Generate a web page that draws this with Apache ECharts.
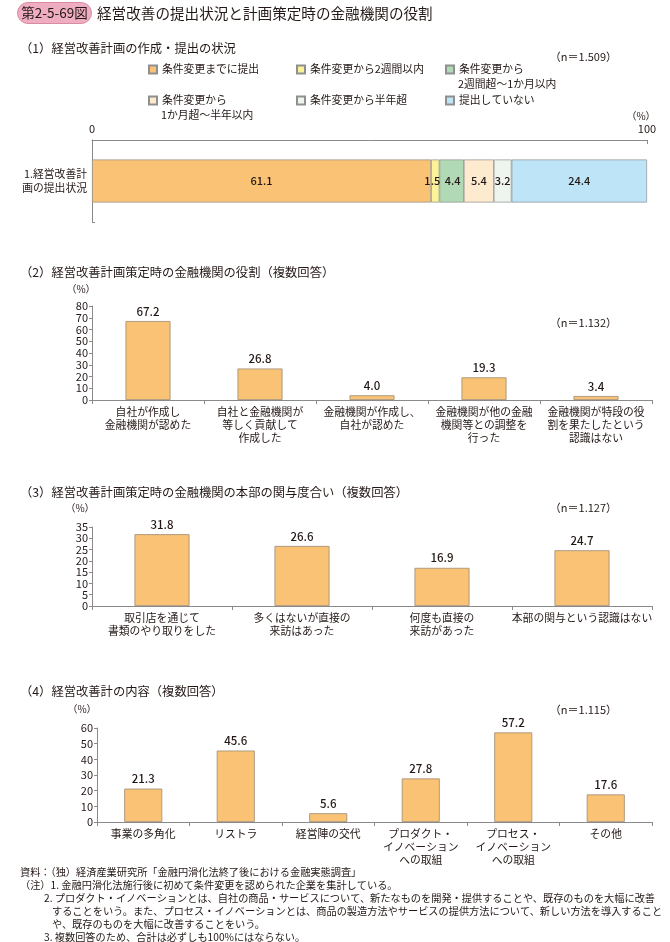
<!DOCTYPE html>
<html><head><meta charset="utf-8">
<script src="https://cdn.jsdelivr.net/npm/echarts@6/dist/echarts.min.js"></script>
<style>html,body{margin:0;padding:0;background:#fff}#c{width:670px;height:942px}</style>
</head><body><div id="c"></div>
<script>
// ---------- data ----------
const s1Names = ['条件変更までに提出','条件変更から2週間以内','条件変更から\n2週間超～1か月以内','条件変更から\n1か月超～半年以内','条件変更から半年超','提出していない'];
const s1Values = [61.1, 1.5, 4.4, 5.4, 3.2, 24.4];
const s1Category = ['1.経営改善計\n画の提出状況'];
const s1Ticks = [0, 100];

const s2Categories = ['自社が作成し\n金融機関が認めた','自社と金融機関が\n等しく貢献して\n作成した','金融機関が作成し、\n自社が認めた','金融機関が他の金融\n機関等との調整を\n行った','金融機関が特段の役\n割を果たしたという\n認識はない'];
const s2Values = [67.2, 26.8, 4.0, 19.3, 3.4];

const s3Categories = ['取引店を通じて\n書類のやり取りをした','多くはないが直接の\n来訪はあった','何度も直接の\n来訪があった','本部の関与という認識はない'];
const s3Values = [31.8, 26.6, 16.9, 24.7];

const s4Categories = ['事業の多角化','リストラ','経営陣の交代','プロダクト・\nイノベーション\nへの取組','プロセス・\nイノベーション\nへの取組','その他'];
const s4Values = [21.3, 45.6, 5.6, 27.8, 57.2, 17.6];

const titles = ['（1）経営改善計画の作成・提出の状況','（2）経営改善計画策定時の金融機関の役割（複数回答）','（3）経営改善計画策定時の金融機関の本部の関与度合い（複数回答）','（4）経営改善計の内容（複数回答）'];
const nLabels = ['（n＝1.509）','（n＝1.132）','（n＝1.127）','（n＝1.115）'];
const footnotes = [
 '資料：（独）経済産業研究所「金融円滑化法終了後における金融実態調査」',
 '（注）1. 金融円滑化法施行後に初めて条件変更を認められた企業を集計している。',
 '2. プロダクト・イノベーションとは、自社の商品・サービスについて、新たなものを開発・提供することや、既存のものを大幅に改善',
 'することをいう。また、プロセス・イノベーションとは、商品の製造方法やサービスの提供方法について、新しい方法を導入すること',
 'や、既存のものを大幅に改善することをいう。',
 '3. 複数回答のため、合計は必ずしも100%にはならない。'
];

// ---------- styles ----------
const JP = "'Noto Sans CJK JP','Noto Sans',sans-serif";
const NUM = "'Liberation Sans Narrow','Noto Sans CJK JP',sans-serif";
const TXT = '#231815';
const AX = '#8a8a8a';
const s1Colors = ['#F9C274','#FCF29A','#B2D9B5','#FDEACF','#EEF5EE','#BEE4F7'];
const s1LabelOffsets = [[0,0],[-3,0],[1,0],[0,0],[0,0],[0,0]];
const barColor = '#F9C274';
const barBorder = '#9c8a74';

const chart = echarts.init(document.getElementById('c'), null, {renderer:'canvas'});

const grids = [
  {left:92, right:23, top:140, height:82},
  {left:92, right:18, top:306, height:94},
  {left:92, right:18, top:527, height:79},
  {left:97, right:18, top:728, height:94}
];

function valAxis(idx, max, interval){
  return {gridIndex:idx, type:'value', min:0, max:max, interval:interval,
    axisLine:{show:true, lineStyle:{color:AX, width:1}},
    axisTick:{show:true, length:3, lineStyle:{color:AX}},
    axisLabel:{fontFamily:NUM, fontSize:11, color:TXT, margin:4, showMinLabel:true, showMaxLabel:true},
    splitLine:{show:false}};
}
function catAxis(idx, data){
  return {gridIndex:idx, type:'category', data:data,
    axisLine:{show:true, lineStyle:{color:AX, width:1}},
    axisTick:{show:true, length:4, lineStyle:{color:AX}},
    axisLabel:{interval:0, fontFamily:JP, fontSize:10.8, color:TXT, lineHeight:13, margin:5}};
}
function barSeries(idx, vals, bw){
  return {type:'bar', xAxisIndex:idx, yAxisIndex:idx, data:vals, barWidth:bw,
    itemStyle:{color:barColor, borderColor:barBorder, borderWidth:0.8},
    label:{show:true, position:'top', distance:4, fontFamily:NUM, fontSize:11.5, fontWeight:500, color:TXT,
      formatter:p=>p.value.toFixed(1)},
    emphasis:{disabled:true}, silent:true};
}

const xAxes = [
  {gridIndex:0, type:'value', min:s1Ticks[0], max:s1Ticks[1], interval:s1Ticks[1]-s1Ticks[0], position:'top',
   axisLine:{show:true, lineStyle:{color:AX}}, axisTick:{show:true, inside:true, length:4, lineStyle:{color:AX}},
   axisLabel:{fontFamily:NUM, fontSize:11, color:TXT, margin:6, showMinLabel:true, showMaxLabel:true}, splitLine:{show:false}},
  catAxis(1, s2Categories), catAxis(2, s3Categories), catAxis(3, s4Categories)
];
const yAxes = [
  {gridIndex:0, type:'category', data:s1Category,
   axisLine:{show:true, lineStyle:{color:AX}}, axisTick:{show:true, inside:true, length:3, lineStyle:{color:AX}},
   axisLabel:{fontFamily:JP, fontSize:10.8, color:TXT, lineHeight:14, margin:5}},
  valAxis(1, 80, 10), valAxis(2, 35, 5), valAxis(3, 60, 10)
];

const series = s1Names.map((n,i)=>({
  name:n, type:'bar', stack:'s1', xAxisIndex:0, yAxisIndex:0, barWidth:43,
  data:[s1Values[i]],
  itemStyle:{color:s1Colors[i], borderColor:'#8f8f8f', borderWidth:0.7},
  label:{show:true, position:'inside', offset:s1LabelOffsets[i], fontFamily:NUM, fontSize:11, fontWeight:500, color:TXT, formatter:p=>p.value.toFixed(1)},
  emphasis:{disabled:true}, silent:true
}));
series.push(barSeries(1, s2Values, 45));
series.push(barSeries(2, s3Values, 55));
series.push(barSeries(3, s4Values, 38));

// legends: one per item, positioned like the reference
const legPos = [[148,64],[296,64],[445,64],[148,95],[296,95],[445,95]];
const legends = s1Names.map((n,i)=>({
  data:[n], left:legPos[i][0], top:legPos[i][1], padding:0, itemWidth:8, itemHeight:8, icon:'rect',
  selectedMode:false, formatter:name=>name.split('\n')[0],
  textStyle:{fontFamily:JP, fontSize:10.8, color:TXT}
}));

const graphics = [];
// header badge
graphics.push({type:'rect', shape:{x:17.5, y:2.5, width:74, height:21, r:10.5},
  style:{fill:'#EEADC1', stroke:'#D98BA4', lineWidth:1}});
graphics.push({type:'text', x:54.5, y:13, style:{text:'第2-5-69図', fontFamily:JP, fontSize:13.5, fill:TXT, align:'center', verticalAlign:'middle'}});
graphics.push({type:'text', x:97, y:13, style:{text:'経営改善の提出状況と計画策定時の金融機関の役割', fontFamily:JP, fontSize:14.6, fill:TXT, verticalAlign:'middle'}});
// section titles
const titleY = [48, 272, 492, 691];
titles.forEach((t,i)=>graphics.push({type:'text', x:20, y:titleY[i], style:{text:t, fontFamily:JP, fontSize:12.3, fill:TXT, verticalAlign:'middle'}}));
// n labels
const nY = [57, 323, 508, 710];
nLabels.forEach((t,i)=>graphics.push({type:'text', x:617, y:nY[i], style:{text:t, fontFamily:NUM, fontSize:11, fill:TXT, align:'right', verticalAlign:'middle'}}));
// (%) labels
[[641,116],[81,289],[80,508],[82,709]].forEach(p=>graphics.push({type:'text', x:p[0], y:p[1], style:{text:'（%）', fontFamily:NUM, fontSize:10, fill:TXT, align:'center', verticalAlign:'middle'}}));
// legend second lines
s1Names.forEach((n,i)=>{
  const parts = n.split('\n');
  if(parts.length>1){
    graphics.push({type:'text', x:legPos[i][0]+13, y:legPos[i][1]+20, style:{text:parts[1], fontFamily:JP, fontSize:10.8, fill:TXT, verticalAlign:'middle'}});
  }
});
// footnotes
const fnX = [20, 20, 44, 52, 52, 44];
footnotes.forEach((t,i)=>graphics.push({type:'text', x:fnX[i], y:872+i*13, style:{text:t, fontFamily:JP, fontSize:10.2, fill:TXT, verticalAlign:'middle'}}));

chart.setOption({
  animation:false,
  backgroundColor:'#ffffff',
  grid:grids, xAxis:xAxes, yAxis:yAxes, series:series, legend:legends, graphic:graphics
});
</script></body></html>
